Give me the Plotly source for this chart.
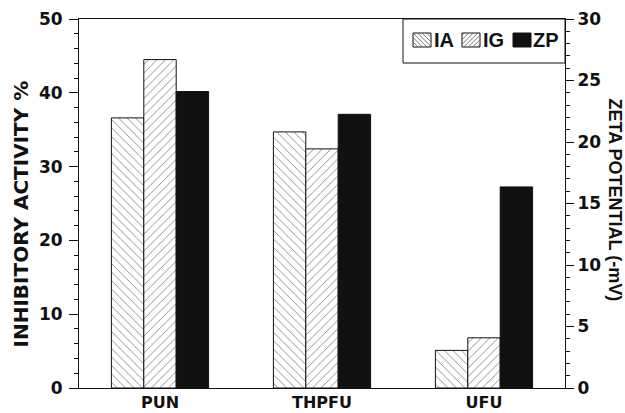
import plotly.graph_objects as go

categories = ["PUN", "THPFU", "UFU"]
ia_values = [36.6, 34.7, 5.1]
ig_values = [44.5, 32.4, 6.8]
zp_values = [24.1, 22.25, 16.35]
series_names = ["IA", "IG", "ZP"]

SANS = "Liberation Sans, Arial, sans-serif"
WIDE = "DejaVu Sans, sans-serif"
INK = "#111111"

fig = go.Figure()
fig.add_trace(go.Bar(
    x=categories, y=ia_values, name=series_names[0], width=0.2, offset=-0.3,
    marker=dict(color="white", line=dict(color=INK, width=1),
                pattern=dict(shape="\\", fgcolor=INK, bgcolor="white", size=6, solidity=0.15)),
))
fig.add_trace(go.Bar(
    x=categories, y=ig_values, name=series_names[1], width=0.2, offset=-0.1,
    marker=dict(color="white", line=dict(color=INK, width=1),
                pattern=dict(shape="/", fgcolor=INK, bgcolor="white", size=6, solidity=0.15)),
))
fig.add_trace(go.Bar(
    x=categories, y=zp_values, name=series_names[2], width=0.2, offset=0.1, yaxis="y2",
    marker=dict(color=INK, line=dict(color=INK, width=1)),
))


# ---- legend drawn as layout decoration (pixel offsets from plot's top-right corner)
def hatch_path(x0, top, w, h, kind, step=4.5):
    segs = []
    if kind == "\\":
        c = -w
        while c < h:
            u0, u1 = max(0, -c), min(w, h - c)
            if u1 > u0:
                segs.append(f"M{x0+u0:.2f},{top-(u0+c):.2f}L{x0+u1:.2f},{top-(u1+c):.2f}")
            c += step
    else:
        c = step / 2
        while c < w + h:
            u0, u1 = max(0, c - h), min(w, c)
            if u1 > u0:
                segs.append(f"M{x0+u0:.2f},{top-(c-u0):.2f}L{x0+u1:.2f},{top-(c-u1):.2f}")
            c += step
    return "".join(segs)


def px_shape(**kw):
    base = dict(xref="paper", yref="paper", xsizemode="pixel", ysizemode="pixel",
                xanchor=1, yanchor=1)
    base.update(kw)
    return base


sw_w, sw_h, sw_top = 18, 14, -14
sw_lefts = [-152, -103, -52]
txt_lefts = [-132, -83, -33]
kinds = ["\\", "/", None]

shapes = [px_shape(type="rect", x0=-162, x1=0, y0=-44, y1=0,
                   line=dict(color=INK, width=1), fillcolor="white", layer="above")]
for left, kind in zip(sw_lefts, kinds):
    if kind is None:
        shapes.append(px_shape(type="rect", x0=left, x1=left + sw_w, y0=sw_top - sw_h, y1=sw_top,
                               line=dict(color=INK, width=1), fillcolor=INK, layer="above"))
    else:
        shapes.append(px_shape(type="rect", x0=left, x1=left + sw_w, y0=sw_top - sw_h, y1=sw_top,
                               line=dict(color=INK, width=1), fillcolor="white", layer="above"))
        shapes.append(px_shape(type="path", path=hatch_path(left, sw_top, sw_w, sw_h, kind),
                               line=dict(color="#555555", width=0.8), layer="above"))

annotations = [
    dict(text="<b>INHIBITORY ACTIVITY %</b>", xref="paper", yref="paper", x=0, y=0.5,
         xshift=-59, yshift=-11, textangle=-90, showarrow=False,
         xanchor="center", yanchor="middle",
         font=dict(size=20, family=WIDE, color=INK)),
    dict(text="<b>ZETA POTENTIAL (-mV)</b>", xref="paper", yref="paper", x=1, y=0.5,
         xshift=50, yshift=4, textangle=90, showarrow=False,
         xanchor="center", yanchor="middle",
         font=dict(size=18, family=SANS, color=INK)),
]
for name, tl in zip(series_names, txt_lefts):
    annotations.append(dict(text=f"<b>{name}</b>", xref="paper", yref="paper", x=1, y=1,
                            xshift=tl, yshift=-21, xanchor="left", yanchor="middle",
                            showarrow=False, borderpad=0,
                            font=dict(size=20, family=SANS, color=INK)))

fig.update_layout(
    width=625, height=413,
    margin=dict(l=79, r=60, t=19, b=25),
    paper_bgcolor="white", plot_bgcolor="white",
    font=dict(family=WIDE, size=17, color=INK),
    barmode="overlay",
    showlegend=False,
    xaxis=dict(range=[-0.5, 2.5], showline=True, linecolor=INK, linewidth=1, mirror=True,
               ticks="", showgrid=False, tickfont=dict(size=16, family=WIDE),
               automargin=False, ticklabelstandoff=0,
               tickprefix="<b>", ticksuffix="</b>"),
    yaxis=dict(range=[0, 50], dtick=10, showline=True, linecolor=INK, linewidth=1,
               ticks="outside", ticklen=9, tickcolor=INK, showgrid=False, zeroline=False,
               automargin=False, ticklabelstandoff=3,
               tickprefix="<b>", ticksuffix="</b>", tickfont=dict(size=17, family=WIDE),
               minor=dict(dtick=2, ticks="outside", ticklen=4, tickcolor=INK, showgrid=False)),
    yaxis2=dict(range=[0, 30], dtick=5, overlaying="y", side="right", showline=True,
                linecolor=INK, linewidth=1, ticks="outside", ticklen=8, tickcolor=INK,
                showgrid=False, zeroline=False, automargin=False,
                tickprefix="<b>", ticksuffix="</b>", tickfont=dict(size=17, family=WIDE),
                minor=dict(dtick=1, ticks="outside", ticklen=4, tickcolor=INK, showgrid=False)),
    shapes=shapes,
    annotations=annotations,
)

fig.write_html("out.html")
